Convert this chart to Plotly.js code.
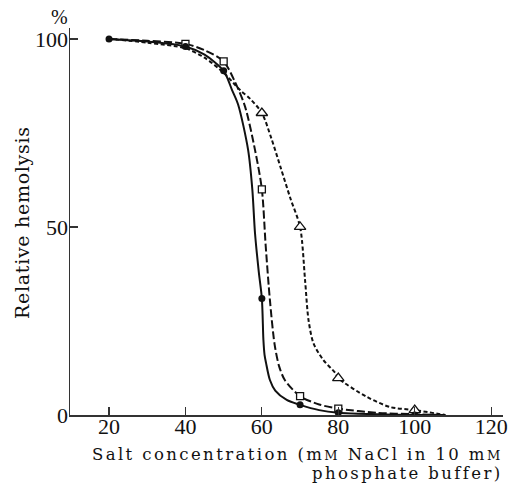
<!DOCTYPE html>
<html>
<head>
<meta charset="utf-8">
<script src="https://cdn.plot.ly/plotly-3.0.1.min.js"></script>
<style>html,body{margin:0;padding:0;background:#fff;}#chart{width:514px;height:491px;}</style>
</head>
<body>
<div id="chart"></div>
<script>
// Measured data points (salt concentration, mM NaCl) and relative hemolysis (%)
const xCircle = [20, 40, 50, 60, 70, 80, 100];
const yCircle = [100, 98, 91.5, 31, 2.7, 0.6, 0];

const xSquare = [40, 50, 60, 70, 80];
const ySquare = [98.7, 94, 60, 5, 1.7];

const xTriangle = [60, 70, 80, 100];
const yTriangle = [80.3, 50, 9.8, 1.3];

// Curves as drawn in the figure
const xCurveSolid = [20, 30, 40, 45, 50, 52.2, 53.8, 56.4, 57.5, 58.2, 59.2, 60, 60.4, 60.7, 61.1, 62.1, 63.5, 66.5, 70, 75, 80, 90, 100, 108];
const yCurveSolid = [100, 99.3, 98, 95.8, 91.5, 86.4, 82.5, 70.5, 60, 48.4, 38, 31, 20, 16, 13.8, 9.3, 6.5, 4, 2.7, 1.3, 0.6, 0.2, 0, 0];

const xCurveDash = [20, 30, 40, 45, 50, 53, 55.6, 58.2, 60, 61, 62.1, 63.3, 64.5, 66, 70, 75, 80, 90, 100, 108];
const yCurveDash = [100, 99.5, 98.7, 97, 94, 88.5, 82, 70.5, 60, 45, 30.6, 19, 13, 9.3, 5, 2.8, 1.7, 0.6, 0.2, 0];

const xCurveDot = [20, 30, 40, 45, 50, 54.3, 57, 60, 62.5, 65, 67.5, 70, 71.3, 72.2, 73.5, 76.1, 79.2, 80, 87.5, 93.6, 100, 108];
const yCurveDot = [100, 99, 97.5, 95, 91, 86.4, 84, 80.3, 73.5, 65.5, 57.5, 50, 35.9, 25.3, 19.1, 14.6, 11.2, 9.8, 4.8, 2.1, 1.3, 0];

const xTickVals = [20, 40, 60, 80, 100, 120];
const yTickVals = [0, 50, 100];

const serif = '"Liberation Serif", "DejaVu Serif", serif';
const wideSerif = '"DejaVu Serif", "Liberation Serif", serif';

const traces = [
  {x: xCurveDot, y: yCurveDot, mode: 'lines', line: {color: '#111', width: 2, dash: '4px,2.5px', shape: 'spline', smoothing: 0.8}, hoverinfo: 'skip'},
  {x: xCurveDash, y: yCurveDash, mode: 'lines', line: {color: '#111', width: 2, dash: '8px,3px', shape: 'spline', smoothing: 0.8}, hoverinfo: 'skip'},
  {x: xCurveSolid, y: yCurveSolid, mode: 'lines', line: {color: '#111', width: 2, shape: 'spline', smoothing: 0.8}, hoverinfo: 'skip'},
  {x: xTriangle, y: yTriangle, mode: 'markers', marker: {symbol: 'triangle-up', size: 10, color: '#fff', line: {color: '#111', width: 1.3}}},
  {x: xSquare, y: ySquare, mode: 'markers', marker: {symbol: 'square', size: 7, color: '#fff', line: {color: '#111', width: 1.3}}},
  {x: xCircle, y: yCircle, mode: 'markers', marker: {symbol: 'circle', size: 7, color: '#111'}}
];

const sm = '<span style="font-size:13px">M</span>';

const layout = {
  width: 514, height: 491,
  margin: {l: 70, r: 11, t: 28, b: 76},
  paper_bgcolor: '#fff', plot_bgcolor: '#fff',
  showlegend: false,
  font: {family: serif, color: '#111', size: 22},
  xaxis: {
    range: [9.79, 123.1], tickvals: xTickVals, ticktext: xTickVals.map(String),
    ticks: 'inside', ticklen: 8, tickwidth: 1.2, tickcolor: '#333', ticklabelstandoff: -9,
    showline: true, linecolor: '#333', linewidth: 1.5, showgrid: false, zeroline: false,
    tickfont: {family: serif, size: 22, color: '#111'}
  },
  yaxis: {
    range: [0, 102.9], tickvals: yTickVals, ticktext: yTickVals.map(String),
    ticks: 'inside', ticklen: 8, tickwidth: 1.2, tickcolor: '#333', ticklabelstandoff: -4,
    showline: true, linecolor: '#333', linewidth: 1.5, showgrid: false, zeroline: false,
    tickfont: {family: serif, size: 22, color: '#111'}
  },
  annotations: [
    {text: '%', xref: 'paper', yref: 'paper', x: -0.025, y: 1.028, showarrow: false, xanchor: 'center', yanchor: 'middle', font: {family: serif, size: 20, color: '#111'}},
    {text: '<span style="letter-spacing:0.7px">Relative hemolysis</span>', xref: 'paper', yref: 'paper', x: -0.111, y: 0.4987, textangle: -90, showarrow: false, xanchor: 'center', yanchor: 'middle', font: {family: wideSerif, size: 19, color: '#111'}},
    {text: '<span style="letter-spacing:2.4px">Salt concentration (m' + sm + ' NaCl in 10 m' + sm + '</span>', xref: 'paper', yref: 'paper', x: 1.0046, y: -0.1008, showarrow: false, xanchor: 'right', yanchor: 'middle', font: {family: wideSerif, size: 16.5, color: '#111'}},
    {text: '<span style="letter-spacing:2.4px">phosphate buffer)</span>', xref: 'paper', yref: 'paper', x: 1.0046, y: -0.1512, showarrow: false, xanchor: 'right', yanchor: 'middle', font: {family: wideSerif, size: 16.5, color: '#111'}}
  ]
};

Plotly.newPlot('chart', traces, layout, {staticPlot: true, displayModeBar: false});
</script>
</body>
</html>
